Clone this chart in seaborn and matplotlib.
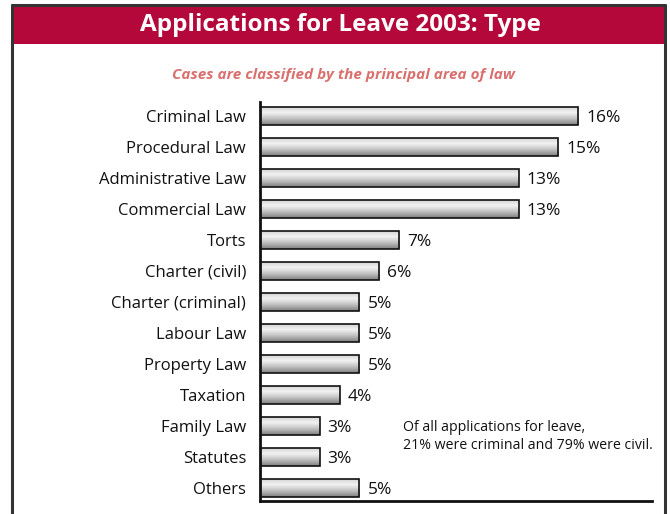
import numpy as np
import pandas as pd
import matplotlib
matplotlib.use("Agg")
import matplotlib.pyplot as plt
import seaborn as sns
from matplotlib.patches import Rectangle
from matplotlib.lines import Line2D
from matplotlib.colors import LinearSegmentedColormap

categories = ["Criminal Law", "Procedural Law", "Administrative Law", "Commercial Law",
              "Torts", "Charter (civil)", "Charter (criminal)", "Labour Law",
              "Property Law", "Taxation", "Family Law", "Statutes", "Others"]
shares = [16, 15, 13, 13, 7, 6, 5, 5, 5, 4, 3, 3, 5]

title = "Applications for Leave 2003: Type"
subtitle = "Cases are classified by the principal area of law"
note = "Of all applications for leave,\n21% were criminal and 79% were civil."

W, H = 670, 514
sns.set_theme(style="white")
plt.rcParams["font.family"] = ["Open Sans", "DejaVu Sans"]

fig = plt.figure(figsize=(W / 100, H / 100), dpi=100)

# frame and red title band (pixel coords -> figure fraction)
def fx(x): return x / W
def fy(y): return 1 - y / H

fig.patches.append(Rectangle((fx(13), fy(44)), fx(651), 38 / H, transform=fig.transFigure,
                             facecolor="#b5083a", edgecolor="none", zorder=0))
for xs, ys in [([12, 12], [5, 514]), ([665, 665], [5, 514]), ([12, 665], [5, 5])]:
    fig.lines.append(Line2D([fx(x) for x in xs], [fy(y) for y in ys],
                            transform=fig.transFigure, color="#333333", lw=2.2))

fig.text(fx(340), fy(25), title, ha="center", va="center", color="white",
         fontsize=17.5, fontweight="bold")
fig.text(fx(343), fy(75), subtitle, ha="center", va="center", color="#d9706e",
         fontsize=11, fontweight="bold", style="italic")

ax = fig.add_axes([fx(260), fy(501), (652 - 260) / W, (501 - 102) / H])
df = pd.DataFrame({"category": categories, "share": shares})
sns.barplot(data=df, x="share", y="category", orient="h", ax=ax, width=0.58,
            color="#cccccc", edgecolor="#111111", linewidth=1.2)

# vertical grey gradient clipped to each bar
cmap = LinearSegmentedColormap.from_list(
    "bar", [(0, "#d4d4d4"), (0.3, "#f2f2f2"), (0.6, "#c8c8c8"), (1, "#808080")])
grad = np.linspace(0, 1, 64).reshape(-1, 1)
for p in ax.patches:
    x0, y0 = p.get_x(), p.get_y()
    w, h = p.get_width(), p.get_height()
    im = ax.imshow(grad, cmap=cmap, aspect="auto", extent=[x0, x0 + w, y0 + h, y0],
                   origin="upper", zorder=2)
    im.set_clip_path(p)
    p.set_facecolor("none")
    p.set_zorder(3)

for i, v in enumerate(shares):
    ax.text(v + 0.4, i, f"{v}%", va="center_baseline", ha="left", fontsize=12.5,
            color="#111111")

ax.set_xlim(0, 19.7)
ax.set_ylim(len(categories) - 1 + 0.42, -0.45)
ax.set_xlabel("")
ax.set_ylabel("")
ax.set_xticks([])
ax.tick_params(axis="y", length=0, pad=10, labelsize=12, labelcolor="#111111")
for s in ["top", "right"]:
    ax.spines[s].set_visible(False)
for s in ["left", "bottom"]:
    ax.spines[s].set_color("#111111")
    ax.spines[s].set_linewidth(2)

ax.text(7.2, 10.33, note, ha="left", va="center", fontsize=10.2, color="#111111",
        linespacing=1.3)

fig.savefig("out.png", dpi=100)
